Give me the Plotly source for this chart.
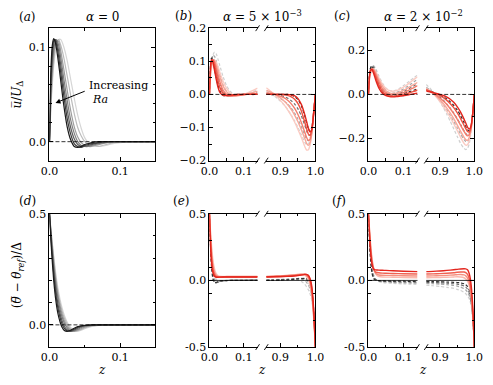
import plotly.graph_objects as go

W, H = 493, 385
FONT = "DejaVu Serif"

# ---------------- data ----------------
# (a) mean horizontal velocity, alpha = 0, darkest (highest Ra) first
z_a = [0, 0.002, 0.004, 0.006, 0.008, 0.01, 0.013, 0.016, 0.02, 0.025, 0.03, 0.035,
       0.04, 0.045, 0.05, 0.055, 0.06, 0.07, 0.08, 0.09, 0.1, 0.12, 0.15]
u_a = [
    [0, 0.075, 0.102, 0.109, 0.106, 0.098, 0.082, 0.064, 0.04, 0.016, 0.002, -0.005, -0.006, -0.005, -0.003, -0.002, -0.001, 0, 0, 0, 0, 0, 0],
    [0, 0.065, 0.095, 0.107, 0.108, 0.103, 0.09, 0.073, 0.05, 0.025, 0.008, -0.002, -0.005, -0.006, -0.004, -0.003, -0.002, -0.001, 0, 0, 0, 0, 0],
    [0, 0.058, 0.088, 0.103, 0.108, 0.106, 0.096, 0.081, 0.059, 0.034, 0.015, 0.003, -0.003, -0.005, -0.005, -0.004, -0.003, -0.001, 0, 0, 0, 0, 0],
    [0, 0.052, 0.08, 0.097, 0.105, 0.108, 0.102, 0.089, 0.068, 0.044, 0.023, 0.009, 0.0, -0.004, -0.005, -0.005, -0.004, -0.002, -0.001, 0, 0, 0, 0],
    [0, 0.046, 0.073, 0.091, 0.102, 0.107, 0.106, 0.096, 0.078, 0.055, 0.033, 0.016, 0.005, -0.001, -0.004, -0.005, -0.005, -0.003, -0.001, 0, 0, 0, 0],
    [0, 0.04, 0.066, 0.085, 0.098, 0.105, 0.108, 0.102, 0.09, 0.07, 0.049, 0.03, 0.015, 0.006, 0.0, -0.003, -0.004, -0.005, -0.003, -0.001, 0, 0, 0],
    [0, 0.035, 0.06, 0.08, 0.093, 0.102, 0.108, 0.108, 0.101, 0.086, 0.066, 0.046, 0.028, 0.014, 0.004, -0.001, -0.003, -0.005, -0.004, -0.002, -0.001, 0, 0],
]

# (d) mean temperature, alpha = 0
z_d = [0, 0.003, 0.006, 0.009, 0.012, 0.015, 0.018, 0.021, 0.025, 0.03, 0.035, 0.04,
       0.045, 0.05, 0.06, 0.07, 0.08, 0.1, 0.15]
th_d = [
    [0.5, 0.33, 0.2, 0.11, 0.05, 0.013, -0.012, -0.025, -0.029, -0.024, -0.015, -0.008, -0.004, -0.002, 0, 0, 0, 0, 0],
    [0.5, 0.35, 0.23, 0.14, 0.075, 0.032, 0.003, -0.016, -0.027, -0.027, -0.019, -0.011, -0.006, -0.003, -0.001, 0, 0, 0, 0],
    [0.5, 0.365, 0.25, 0.16, 0.095, 0.05, 0.017, -0.006, -0.022, -0.029, -0.023, -0.015, -0.008, -0.004, -0.001, 0, 0, 0, 0],
    [0.5, 0.375, 0.27, 0.185, 0.12, 0.07, 0.034, 0.008, -0.013, -0.027, -0.027, -0.02, -0.012, -0.007, -0.002, 0, 0, 0, 0],
    [0.5, 0.385, 0.285, 0.2, 0.135, 0.085, 0.048, 0.02, -0.004, -0.022, -0.028, -0.024, -0.017, -0.01, -0.003, -0.001, 0, 0, 0],
    [0.5, 0.395, 0.3, 0.215, 0.15, 0.1, 0.062, 0.032, 0.005, -0.017, -0.027, -0.027, -0.021, -0.014, -0.005, -0.001, 0, 0, 0],
    [0.5, 0.4, 0.31, 0.23, 0.165, 0.115, 0.075, 0.043, 0.013, -0.012, -0.025, -0.028, -0.024, -0.017, -0.007, -0.002, 0, 0, 0],
]

# (b), (c) velocity, broken z axis
z_lo = [0, 0.003, 0.006, 0.01, 0.015, 0.02, 0.025, 0.03, 0.04, 0.05, 0.06, 0.07,
        0.08, 0.09, 0.1, 0.11, 0.12, 0.13, 0.14]
z_hi = [0.86, 0.87, 0.88, 0.89, 0.9, 0.91, 0.92, 0.93, 0.94, 0.95, 0.96, 0.97,
        0.975, 0.98, 0.985, 0.99, 0.995, 1.0]

u_b_red_lo = [
    [0, 0.085, 0.105, 0.098, 0.072, 0.045, 0.022, 0.007, -0.003, -0.003, -0.002, -0.001, 0, 0, 0, 0, 0, 0, 0],
    [0, 0.075, 0.1, 0.104, 0.088, 0.064, 0.041, 0.022, 0.003, -0.004, -0.004, -0.003, -0.002, -0.001, 0, 0, 0, 0, 0.001],
    [0, 0.068, 0.095, 0.105, 0.097, 0.079, 0.058, 0.039, 0.012, 0.0, -0.004, -0.004, -0.003, -0.002, -0.001, 0, 0.001, 0.002, 0.004],
    [0, 0.06, 0.088, 0.103, 0.102, 0.089, 0.072, 0.054, 0.025, 0.008, -0.001, -0.004, -0.004, -0.003, -0.001, 0.001, 0.004, 0.007, 0.01],
    [0, 0.052, 0.08, 0.099, 0.104, 0.097, 0.084, 0.068, 0.039, 0.018, 0.005, -0.002, -0.004, -0.003, 0.0, 0.004, 0.009, 0.014, 0.019],
]
u_b_gray_lo = [
    [0, 0.09, 0.11, 0.103, 0.077, 0.05, 0.027, 0.011, -0.003, -0.004, -0.003, -0.001, 0, 0, 0, 0, 0, 0, 0],
    [0, 0.075, 0.105, 0.113, 0.1, 0.078, 0.055, 0.035, 0.008, -0.003, -0.004, -0.003, -0.002, -0.001, 0, 0, 0, 0.001, 0.002],
    [0, 0.065, 0.1, 0.118, 0.115, 0.1, 0.08, 0.06, 0.027, 0.008, -0.001, -0.003, -0.003, -0.002, 0, 0.001, 0.003, 0.005, 0.007],
    [0, 0.055, 0.092, 0.118, 0.128, 0.122, 0.106, 0.088, 0.053, 0.026, 0.01, 0.002, -0.001, 0, 0.002, 0.004, 0.007, 0.01, 0.013],
]
u_b_red_hi = [
    [0, 0, 0, 0, 0, 0, 0, -0.001, -0.004, -0.012, -0.03, -0.062, -0.082, -0.102, -0.114, -0.105, -0.06, 0],
    [0, 0, 0, 0, 0, -0.001, -0.003, -0.007, -0.014, -0.027, -0.05, -0.085, -0.104, -0.12, -0.124, -0.105, -0.055, 0],
    [0.005, 0.003, 0.001, -0.002, -0.005, -0.01, -0.017, -0.027, -0.041, -0.06, -0.085, -0.115, -0.13, -0.139, -0.135, -0.11, -0.055, 0],
    [0.012, 0.008, 0.003, -0.003, -0.01, -0.019, -0.03, -0.044, -0.061, -0.082, -0.107, -0.134, -0.148, -0.154, -0.145, -0.115, -0.058, 0],
    [0.02, 0.012, 0.003, -0.007, -0.018, -0.03, -0.045, -0.062, -0.082, -0.105, -0.13, -0.158, -0.168, -0.167, -0.152, -0.118, -0.06, 0],
]
u_b_gray_hi = [
    [0, 0, 0, 0, 0, 0, 0, -0.002, -0.006, -0.015, -0.034, -0.066, -0.086, -0.104, -0.112, -0.1, -0.055, 0],
    [0, 0, 0, -0.001, -0.003, -0.006, -0.011, -0.018, -0.028, -0.043, -0.065, -0.094, -0.11, -0.122, -0.122, -0.103, -0.055, 0],
    [0.003, 0.0, -0.003, -0.007, -0.012, -0.019, -0.028, -0.04, -0.055, -0.074, -0.098, -0.124, -0.136, -0.14, -0.132, -0.108, -0.055, 0],
    [0.01, 0.004, -0.003, -0.011, -0.02, -0.031, -0.044, -0.06, -0.078, -0.099, -0.122, -0.145, -0.152, -0.15, -0.138, -0.11, -0.056, 0],
]

u_c_red_lo = [
    [0, 0.085, 0.11, 0.112, 0.095, 0.07, 0.047, 0.028, 0.005, -0.006, -0.01, -0.011, -0.01, -0.008, -0.006, -0.003, 0, 0.003, 0.006],
    [0, 0.08, 0.107, 0.115, 0.104, 0.083, 0.061, 0.041, 0.014, 0.0, -0.007, -0.009, -0.008, -0.005, -0.001, 0.004, 0.009, 0.014, 0.02],
    [0, 0.075, 0.103, 0.116, 0.11, 0.094, 0.074, 0.055, 0.025, 0.008, 0.0, -0.003, -0.002, 0.002, 0.008, 0.015, 0.023, 0.031, 0.04],
    [0, 0.07, 0.098, 0.114, 0.114, 0.101, 0.084, 0.066, 0.036, 0.017, 0.007, 0.004, 0.006, 0.011, 0.018, 0.027, 0.036, 0.045, 0.054],
    [0, 0.065, 0.093, 0.112, 0.115, 0.106, 0.091, 0.075, 0.046, 0.027, 0.017, 0.014, 0.017, 0.024, 0.033, 0.044, 0.056, 0.068, 0.08],
]
u_c_gray_lo = [
    [0, 0.09, 0.12, 0.128, 0.112, 0.087, 0.062, 0.04, 0.012, -0.003, -0.008, -0.008, -0.005, -0.001, 0.004, 0.009, 0.014, 0.019, 0.025],
    [0, 0.085, 0.117, 0.13, 0.122, 0.101, 0.078, 0.056, 0.024, 0.006, -0.002, -0.003, 0.0, 0.006, 0.013, 0.021, 0.03, 0.039, 0.048],
    [0, 0.08, 0.112, 0.13, 0.128, 0.112, 0.092, 0.071, 0.038, 0.017, 0.007, 0.005, 0.009, 0.016, 0.025, 0.035, 0.046, 0.057, 0.068],
    [0, 0.075, 0.107, 0.128, 0.131, 0.12, 0.103, 0.084, 0.051, 0.029, 0.018, 0.016, 0.02, 0.029, 0.04, 0.052, 0.064, 0.076, 0.088],
]
u_c_red_hi = [
    [0.015, 0.012, 0.008, 0.004, 0.0, -0.005, -0.012, -0.022, -0.036, -0.055, -0.08, -0.112, -0.13, -0.148, -0.157, -0.145, -0.09, 0],
    [0.02, 0.015, 0.009, 0.002, -0.006, -0.015, -0.027, -0.042, -0.06, -0.083, -0.11, -0.14, -0.155, -0.168, -0.17, -0.15, -0.09, 0],
    [0.022, 0.015, 0.006, -0.004, -0.016, -0.03, -0.046, -0.065, -0.087, -0.112, -0.14, -0.168, -0.18, -0.188, -0.182, -0.155, -0.09, 0],
    [0.025, 0.016, 0.005, -0.008, -0.024, -0.042, -0.062, -0.085, -0.11, -0.138, -0.167, -0.195, -0.205, -0.208, -0.195, -0.16, -0.092, 0],
    [0.028, 0.017, 0.003, -0.013, -0.032, -0.054, -0.078, -0.104, -0.133, -0.163, -0.195, -0.222, -0.23, -0.228, -0.21, -0.168, -0.095, 0],
]
u_c_gray_hi = [
    [0.02, 0.015, 0.01, 0.004, -0.003, -0.011, -0.021, -0.034, -0.05, -0.07, -0.096, -0.128, -0.146, -0.16, -0.165, -0.148, -0.09, 0],
    [0.025, 0.018, 0.009, -0.001, -0.013, -0.027, -0.044, -0.063, -0.085, -0.11, -0.137, -0.165, -0.177, -0.185, -0.18, -0.155, -0.09, 0],
    [0.033, 0.022, 0.008, -0.008, -0.027, -0.048, -0.071, -0.096, -0.123, -0.151, -0.18, -0.205, -0.213, -0.214, -0.2, -0.163, -0.093, 0],
    [0.045, 0.03, 0.012, -0.009, -0.033, -0.06, -0.09, -0.122, -0.156, -0.19, -0.222, -0.245, -0.25, -0.245, -0.225, -0.175, -0.1, 0],
]

# (e), (f) temperature, broken z axis
zt_lo = [0, 0.002, 0.004, 0.006, 0.008, 0.01, 0.013, 0.016, 0.02, 0.025, 0.03, 0.04,
         0.05, 0.07, 0.1, 0.14]
zt_hi = [0.86, 0.88, 0.9, 0.92, 0.94, 0.95, 0.96, 0.97, 0.975, 0.98, 0.984, 0.987,
         0.99, 0.992, 0.994, 0.996, 0.998, 1.0]

th_e_red_lo = [
    [0.5, 0.34, 0.22, 0.14, 0.09, 0.06, 0.038, 0.028, 0.024, 0.024, 0.025, 0.026, 0.026, 0.026, 0.026, 0.026],
    [0.5, 0.36, 0.25, 0.17, 0.115, 0.08, 0.05, 0.035, 0.027, 0.025, 0.025, 0.026, 0.027, 0.027, 0.027, 0.027],
    [0.5, 0.38, 0.28, 0.2, 0.145, 0.105, 0.067, 0.046, 0.032, 0.027, 0.026, 0.027, 0.028, 0.028, 0.028, 0.028],
    [0.5, 0.4, 0.31, 0.235, 0.175, 0.13, 0.087, 0.06, 0.04, 0.031, 0.028, 0.028, 0.029, 0.029, 0.029, 0.029],
    [0.5, 0.42, 0.34, 0.27, 0.21, 0.16, 0.11, 0.077, 0.05, 0.036, 0.031, 0.03, 0.03, 0.03, 0.03, 0.03],
]
th_e_gray_lo = [
    [0.5, 0.33, 0.2, 0.11, 0.05, 0.015, -0.01, -0.018, -0.015, -0.008, -0.004, -0.002, -0.001, 0, 0, 0],
    [0.5, 0.35, 0.23, 0.14, 0.08, 0.04, 0.005, -0.012, -0.018, -0.013, -0.007, -0.003, -0.001, 0, 0.001, 0.002],
    [0.5, 0.37, 0.26, 0.175, 0.115, 0.072, 0.03, 0.005, -0.01, -0.012, -0.008, -0.003, 0.0, 0.002, 0.003, 0.004],
    [0.5, 0.39, 0.295, 0.215, 0.155, 0.11, 0.06, 0.03, 0.007, -0.004, -0.006, -0.002, 0.002, 0.004, 0.005, 0.006],
]
th_e_red_hi = [
    [0.026, 0.027, 0.028, 0.03, 0.033, 0.036, 0.04, 0.045, 0.045, 0.038, 0.02, -0.005, -0.05, -0.1, -0.17, -0.26, -0.37, -0.5],
    [0.027, 0.028, 0.03, 0.032, 0.036, 0.039, 0.043, 0.046, 0.043, 0.033, 0.01, -0.02, -0.07, -0.12, -0.19, -0.28, -0.38, -0.5],
    [0.028, 0.03, 0.032, 0.035, 0.039, 0.042, 0.045, 0.045, 0.04, 0.026, 0.0, -0.035, -0.09, -0.14, -0.21, -0.29, -0.39, -0.5],
    [0.029, 0.031, 0.034, 0.037, 0.041, 0.044, 0.046, 0.042, 0.034, 0.016, -0.013, -0.05, -0.105, -0.155, -0.225, -0.305, -0.4, -0.5],
    [0.03, 0.032, 0.035, 0.038, 0.043, 0.045, 0.045, 0.037, 0.026, 0.004, -0.028, -0.067, -0.12, -0.17, -0.24, -0.32, -0.41, -0.5],
]
th_e_gray_hi = [
    [0, 0.001, 0.002, 0.004, 0.008, 0.011, 0.014, 0.016, 0.014, 0.005, -0.015, -0.04, -0.08, -0.12, -0.18, -0.26, -0.37, -0.5],
    [0.001, 0.002, 0.004, 0.007, 0.011, 0.014, 0.016, 0.012, 0.005, -0.01, -0.035, -0.065, -0.105, -0.145, -0.2, -0.28, -0.38, -0.5],
    [0.002, 0.004, 0.006, 0.009, 0.012, 0.013, 0.01, -0.002, -0.015, -0.035, -0.06, -0.09, -0.13, -0.17, -0.22, -0.3, -0.39, -0.5],
    [0.004, 0.006, 0.008, 0.009, 0.007, 0.002, -0.008, -0.03, -0.048, -0.07, -0.095, -0.12, -0.155, -0.19, -0.24, -0.31, -0.4, -0.5],
]

th_f_red_lo = [
    [0.5, 0.4, 0.3, 0.22, 0.165, 0.125, 0.095, 0.083, 0.079, 0.078, 0.077, 0.076, 0.075, 0.072, 0.069, 0.066],
    [0.5, 0.41, 0.32, 0.245, 0.185, 0.14, 0.1, 0.078, 0.064, 0.059, 0.057, 0.055, 0.054, 0.052, 0.05, 0.048],
    [0.5, 0.42, 0.34, 0.265, 0.205, 0.158, 0.11, 0.079, 0.056, 0.045, 0.041, 0.039, 0.038, 0.037, 0.035, 0.033],
    [0.5, 0.43, 0.355, 0.285, 0.225, 0.175, 0.12, 0.083, 0.052, 0.036, 0.029, 0.026, 0.025, 0.024, 0.022, 0.02],
]
th_f_gray_lo = [
    [0.5, 0.36, 0.25, 0.16, 0.1, 0.06, 0.025, 0.01, 0.003, 0.0, -0.002, -0.003, -0.004, -0.005, -0.006, -0.008],
    [0.5, 0.37, 0.265, 0.18, 0.12, 0.078, 0.04, 0.02, 0.008, 0.001, -0.003, -0.006, -0.007, -0.009, -0.011, -0.013],
    [0.5, 0.38, 0.28, 0.2, 0.14, 0.096, 0.052, 0.027, 0.01, 0.0, -0.005, -0.01, -0.012, -0.015, -0.018, -0.021],
    [0.5, 0.39, 0.295, 0.22, 0.16, 0.114, 0.065, 0.035, 0.012, -0.002, -0.009, -0.015, -0.018, -0.022, -0.026, -0.03],
]
th_f_red_hi = [
    [0.066, 0.068, 0.071, 0.075, 0.08, 0.083, 0.086, 0.088, 0.087, 0.08, 0.06, 0.03, -0.02, -0.07, -0.14, -0.23, -0.35, -0.5],
    [0.048, 0.049, 0.051, 0.054, 0.058, 0.061, 0.063, 0.063, 0.058, 0.045, 0.022, -0.01, -0.06, -0.11, -0.18, -0.26, -0.37, -0.5],
    [0.033, 0.034, 0.036, 0.038, 0.041, 0.043, 0.044, 0.041, 0.034, 0.018, -0.008, -0.04, -0.09, -0.14, -0.2, -0.28, -0.38, -0.5],
    [0.02, 0.021, 0.022, 0.024, 0.026, 0.027, 0.026, 0.02, 0.011, -0.005, -0.03, -0.062, -0.11, -0.155, -0.21, -0.29, -0.39, -0.5],
]
th_f_gray_hi = [
    [-0.008, -0.009, -0.01, -0.012, -0.014, -0.016, -0.019, -0.025, -0.032, -0.045, -0.065, -0.09, -0.13, -0.17, -0.22, -0.29, -0.39, -0.5],
    [-0.014, -0.016, -0.018, -0.021, -0.025, -0.028, -0.033, -0.042, -0.05, -0.065, -0.085, -0.11, -0.145, -0.18, -0.23, -0.3, -0.39, -0.5],
    [-0.022, -0.025, -0.028, -0.032, -0.038, -0.043, -0.05, -0.062, -0.072, -0.088, -0.108, -0.13, -0.16, -0.195, -0.24, -0.31, -0.4, -0.5],
    [-0.035, -0.04, -0.045, -0.052, -0.06, -0.067, -0.076, -0.09, -0.1, -0.115, -0.132, -0.152, -0.18, -0.21, -0.255, -0.32, -0.4, -0.5],
]

greys7 = ['#1a1a1a', '#3d3d3d', '#5e5e5e', '#7f7f7f', '#9e9e9e', '#bcbcbc', '#d6d6d6']
greys4 = ['#303030', '#707070', '#a8a8a8', '#d0d0d0']
reds5 = ['#e3261e', '#ee5040', '#f47c6c', '#f8a698', '#fbcbc2']
reds4 = ['#e3261e', '#f06050', '#f5907f', '#f9b9ae']

fig = go.Figure()
layout = dict(shapes=[], annotations=[])
count = [0]


def px_x(p):
    return p / W


def px_y(p):
    return 1 - p / H


def make_axes(xpx, ypx, xr, yr, xt, xl, xm, yt, yl, ym, part='full'):
    count[0] += 1
    i = count[0]
    s = '' if i == 1 else str(i)
    tick = dict(ticks='inside', ticklen=4, tickwidth=0.8, tickcolor='black',
                showline=True, linecolor='black', linewidth=1, zeroline=False,
                showgrid=False, tickfont=dict(family=FONT, size=11, color='black'))
    xa = dict(tick, domain=[px_x(xpx[0]), px_x(xpx[1])], range=xr, anchor='y' + s,
              tickmode='array', tickvals=xt, ticktext=xl, mirror='ticks',
              minor=dict(tickmode='array', tickvals=xm, ticks='inside', ticklen=2.5,
                         tickcolor='black', tickwidth=0.8))
    ya = dict(tick, domain=[px_y(ypx[1]), px_y(ypx[0])], range=yr, anchor='x' + s,
              tickmode='array', tickvals=yt, ticktext=yl,
              minor=dict(tickmode='array', tickvals=ym, ticks='inside', ticklen=2.5,
                         tickcolor='black', tickwidth=0.8))
    if part == 'full':
        ya['mirror'] = 'ticks'
    elif part == 'left':
        ya['mirror'] = False
    else:
        ya['mirror'] = False
        ya['side'] = 'right'
        ya['showticklabels'] = False
    layout['xaxis' + s] = xa
    layout['yaxis' + s] = ya
    return 'x' + s, 'y' + s


def add_lines(ax, z, ys, colors, dash=None, width=1.2):
    for y, c in zip(ys[::-1], colors[::-1]):
        fig.add_trace(go.Scatter(x=z, y=y, xaxis=ax[0], yaxis=ax[1], mode='lines',
                                 line=dict(color=c, width=width, dash=dash,
                                           shape='spline', smoothing=0.6),
                                 showlegend=False, hoverinfo='skip'))


def zero_line(ax, dash='dash'):
    layout['shapes'].append(dict(type='line', xref=ax[0] + ' domain', yref=ax[1],
                                 x0=0, x1=1, y0=0, y1=0, layer='above',
                                 line=dict(color='black', width=0.8,
                                           dash='4px,2px' if dash else 'solid')))


def break_marks(xl, xr, ytop, ybot):
    for xp in (xl, xr):
        for yp in (ytop, ybot):
            layout['shapes'].append(dict(type='line', xref='paper', yref='paper',
                                         x0=px_x(xp - 2), y0=px_y(yp + 3),
                                         x1=px_x(xp + 2), y1=px_y(yp - 3),
                                         line=dict(color='black', width=0.9)))


def text(xp, yp, s, size=12, angle=0, xanchor='center'):
    layout['annotations'].append(dict(x=px_x(xp), y=px_y(yp), xref='paper', yref='paper',
                                      text=s, showarrow=False, textangle=angle,
                                      xanchor=xanchor, yanchor='middle',
                                      font=dict(family=FONT, size=size, color='black')))


DASH = '3px,2px'
row1, row2 = (23, 160), (215, 353)
lo_lab, hi_lab = ['0.0', '0.1'], ['0.9', '1.0']

# (a)
ax_a = make_axes((42, 152), row1, [0, 0.15], [-0.02, 0.12], [0, 0.1], lo_lab, [0.05, 0.15],
                 [0, 0.1], ['0.0', '0.1'], [0.02, 0.04, 0.06, 0.08])
add_lines(ax_a, z_a, u_a, greys7)
zero_line(ax_a)

# (b)
yb = [-0.2, -0.1, 0, 0.1, 0.2]
ybl = ['−0.2', '−0.1', '0.0', '0.1', '0.2']
ybm = [-0.15, -0.05, 0.05, 0.15]
ax_bl = make_axes((208, 258), row1, [0, 0.14], [-0.2, 0.2], [0, 0.1], lo_lab, [0.05],
                  yb, ybl, ybm, 'left')
ax_br = make_axes((267, 318), row1, [0.86, 1.0], [-0.2, 0.2], [0.9, 1.0], hi_lab, [0.95],
                  yb, ybl, ybm, 'right')
add_lines(ax_bl, z_lo, u_b_gray_lo, greys4, DASH)
add_lines(ax_br, z_hi, u_b_gray_hi, greys4, DASH)
add_lines(ax_bl, z_lo, u_b_red_lo, reds5, width=1.4)
add_lines(ax_br, z_hi, u_b_red_hi, reds5, width=1.4)
zero_line(ax_bl)
zero_line(ax_br)
break_marks(258, 267, row1[0], row1[1])

# (c)
yc = [-0.2, 0, 0.2]
ycl = ['−0.2', '0.0', '0.2']
ycm = [-0.3, -0.1, 0.1, 0.3]
ax_cl = make_axes((373, 424), row1, [0, 0.14], [-0.3, 0.3], [0, 0.1], lo_lab, [0.05],
                  yc, ycl, ycm, 'left')
ax_cr = make_axes((433, 483), row1, [0.86, 1.0], [-0.3, 0.3], [0.9, 1.0], hi_lab, [0.95],
                  yc, ycl, ycm, 'right')
add_lines(ax_cl, z_lo, u_c_gray_lo, greys4, DASH)
add_lines(ax_cr, z_hi, u_c_gray_hi, greys4, DASH)
add_lines(ax_cl, z_lo, u_c_red_lo, reds5, width=1.4)
add_lines(ax_cr, z_hi, u_c_red_hi, reds5, width=1.4)
zero_line(ax_cl)
zero_line(ax_cr)
break_marks(424, 433, row1[0], row1[1])

# (d)
ax_d = make_axes((42, 152), row2, [0, 0.15], [-0.1, 0.5], [0, 0.1], lo_lab, [0.05, 0.15],
                 [0, 0.5], ['0.0', '0.5'], [-0.1, 0.1, 0.2, 0.3, 0.4])
add_lines(ax_d, z_d, th_d, greys7)
zero_line(ax_d)

# (e)
ye = [-0.5, 0, 0.5]
yel = ['-0.5', '0.0', '0.5']
yem = [-0.3, -0.1, 0.1, 0.3]
ax_el = make_axes((208, 258), row2, [0, 0.14], [-0.5, 0.5], [0, 0.1], lo_lab, [0.05],
                  ye, yel, yem, 'left')
ax_er = make_axes((267, 318), row2, [0.86, 1.0], [-0.5, 0.5], [0.9, 1.0], hi_lab, [0.95],
                  ye, yel, yem, 'right')
add_lines(ax_el, zt_lo, th_e_gray_lo, greys4, DASH)
add_lines(ax_er, zt_hi, th_e_gray_hi, greys4, DASH)
add_lines(ax_el, zt_lo, th_e_red_lo, reds5, width=1.4)
add_lines(ax_er, zt_hi, th_e_red_hi, reds5, width=1.4)
zero_line(ax_el, None)
zero_line(ax_er, None)
break_marks(258, 267, row2[0], row2[1])

# (f)
ax_fl = make_axes((373, 424), row2, [0, 0.14], [-0.5, 0.5], [0, 0.1], lo_lab, [0.05],
                  ye, yel, yem, 'left')
ax_fr = make_axes((433, 483), row2, [0.86, 1.0], [-0.5, 0.5], [0.9, 1.0], hi_lab, [0.95],
                  ye, yel, yem, 'right')
add_lines(ax_fl, zt_lo, th_f_gray_lo, greys4, DASH)
add_lines(ax_fr, zt_hi, th_f_gray_hi, greys4, DASH)
add_lines(ax_fl, zt_lo, th_f_red_lo, reds4, width=1.4)
add_lines(ax_fr, zt_hi, th_f_red_hi, reds4, width=1.4)
zero_line(ax_fl, None)
zero_line(ax_fr, None)
break_marks(424, 433, row2[0], row2[1])

# labels
text(19, 11, '(<i>a</i>)', size=12)
text(97, 11, '<i>α</i> = 0', size=12)
text(181, 10, '(<i>b</i>)', size=12)
text(263, 10, '<i>α</i> = 5 × 10<sup>−3</sup>', size=12)
text(346, 10, '(<i>c</i>)', size=12)
text(430, 10, '<i>α</i> = 2 × 10<sup>−2</sup>', size=12)
text(19, 202, '(<i>d</i>)', size=12)
text(178, 202, '(<i>e</i>)', size=12)
text(343, 202, '(<i>f</i>)', size=12)
text(9, 92, '<i>u̅</i>/<i>U</i><sub>Δ</sub>', size=12, angle=-90)
text(9, 278, '(<i>θ̅</i> − <i>θ</i><sub><i>ref</i></sub>)/Δ', size=12, angle=-90)
for xc in (97, 263, 430):
    text(xc, 377, '<i>z</i>', size=12)
text(81, 82, 'Increasing', size=11, xanchor='left')
text(84, 97, '<i>Ra</i>', size=11, xanchor='left')
layout['annotations'].append(dict(x=0.0085, y=0.041, ax=0.052, ay=0.054,
                                  xref='x', yref='y', axref='x', ayref='y',
                                  text='', showarrow=True, arrowhead=2, arrowsize=1,
                                  arrowwidth=1, arrowcolor='black'))

fig.update_layout(**layout)
fig.update_layout(width=W, height=H, margin=dict(l=0, r=0, t=0, b=0),
                  plot_bgcolor='white', paper_bgcolor='white',
                  font=dict(family=FONT, size=12, color='black'))

fig.write_html("out.html", config={'displayModeBar': False},
               post_script="document.body.style.margin='0';")
